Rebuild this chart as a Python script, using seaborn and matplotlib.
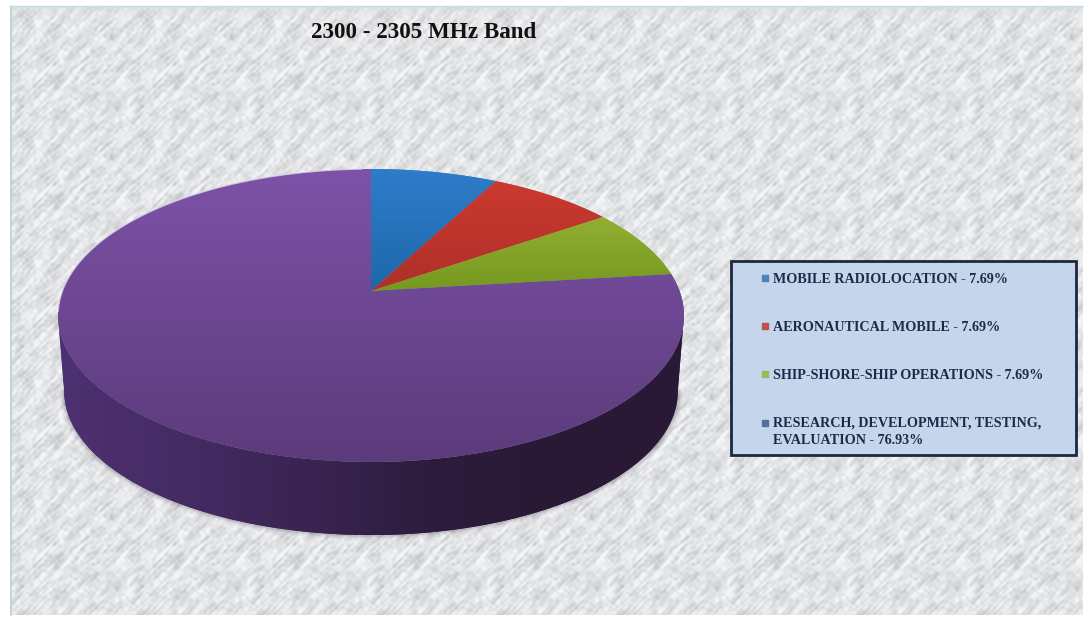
import numpy as np
import matplotlib
matplotlib.use("Agg")
import matplotlib.pyplot as plt
import seaborn as sns
from matplotlib.lines import Line2D
from matplotlib.patches import Polygon, Rectangle
from matplotlib.path import Path
from matplotlib.transforms import Affine2D, Transform

categories = ["MOBILE RADIOLOCATION", "AERONAUTICAL MOBILE",
              "SHIP-SHORE-SHIP OPERATIONS", "RESEARCH, DEVELOPMENT, TESTING,\nEVALUATION"]
shares = [7.69, 7.69, 7.69, 76.93]
share_labels = ["7.69%", "7.69%", "7.69%", "76.93%"]
title = "2300 - 2305 MHz Band"

# top and bottom of the vertical shading of each slice
top_colors = ["#2F7CCB", "#CF3B30", "#A2BE3F", "#7D52A8"]
low_colors = ["#1E68A8", "#AE2F2A", "#76981F", "#5C3B7B"]
legend_colors = ["#4F81BD", "#C0504D", "#9BBB59", "#56709C"]
wall_colors = ["#4E3172", "#452B64", "#3A2453", "#2D1C3C", "#291934", "#2A1A37"]

sns.set_theme(style="white")
plt.rcParams["font.family"] = ["Liberation Serif", "DejaVu Serif"]


class Tilted(Transform):
    # looks at the unit circle of the pie from above, near side bigger
    input_dims = 2
    output_dims = 2
    k = 0.167

    def transform_non_affine(self, xy):
        xy = np.asarray(xy, dtype=float)
        d = 1 + self.k * xy[:, 1]
        return np.column_stack([371 + 308.6 * xy[:, 0] / d, 291 - 142.4 * xy[:, 1] / d])

    def transform_path_non_affine(self, path):
        big = path.transformed(Affine2D().scale(3000))
        pts = np.vstack(big.to_polygons(closed_only=False)) / 3000
        return Path(self.transform_non_affine(pts))


def marble(w=120, h=120):
    # repeating grey tile with fine blotches, strokes lean to the right
    yy, xx = np.mgrid[0:h, 0:w]
    out = np.zeros((h, w))
    for fx in range(1, 24):
        for fy in range(-23, 24):
            f = np.hypot(fx, fy)
            if f < 3:
                continue
            amp = (0.7 * np.exp(-((fx - fy) / 6.0) ** 2) + 0.3) / f ** 0.6
            phase = 2 * np.pi * ((np.sin(fx * 12.9898 + fy * 78.233) * 43758.5453) % 1)
            out += amp * np.sin(2 * np.pi * (fx * xx / w + fy * yy / h) + phase)
    out = (out - out.mean()) / out.std()
    # the small dark specks that repeat in the paper
    for cx, cy, s, a in [(20, 20, 2.5, -2.2), (44, 56, 4, -1.5), (82, 92, 5, -1.3), (100, 30, 3, -1.8)]:
        out += a * np.exp(-((xx - cx) ** 2 + (yy - cy) ** 2) / (2 * s ** 2))
    return out


fig = plt.figure(figsize=(10.85, 6.17), dpi=100, facecolor="white")
ax = fig.add_axes([0, 0, 1, 1])

tile = marble()
grey = np.tile(tile, (6, 10))[:609, :1072]
grey = np.clip(228 + 9 * grey, 185, 246) / 255
rgb = np.dstack([grey * 0.992, grey * 0.998, grey * 1.008]).clip(0, 1)
band = np.clip(1 - np.arange(609) / 10, 0, 1)[:, None, None]
rgb = rgb * (1 - band * 0.5) + np.array([0.80, 0.87, 0.90]) * band * 0.5
ax.imshow(rgb, extent=(11, 1083, 615, 6), aspect="auto", zorder=0, interpolation="bicubic")
ax.plot([11, 11], [6, 615], color="#B5CFD4", lw=1.2, zorder=1)
ax.plot([11, 1083], [6, 6], color="#C9DCE0", lw=1.0, zorder=1)

wedges, _ = ax.pie(shares, startangle=90, counterclock=False, radius=1, colors=legend_colors)
tilt = Tilted()
to_px = tilt + ax.transData

# side wall in front, taken from the big slice
big = wedges[-1]
lo = np.degrees(np.arcsin(-Tilted.k))
ang = np.radians(np.linspace(180 - lo, 360 + lo, 300))
rim = tilt.transform_non_affine(np.column_stack([np.cos(ang), np.sin(ang)]))
foot = rim.copy()
foot[:, 0] = 371 + 0.98 * (foot[:, 0] - 371)
foot[:, 1] = 316 + 0.98 * (foot[:, 1] - 316) + 76
wall = Polygon(np.vstack([rim, foot[::-1]]), closed=True, fc="#33203F", ec="none", zorder=3)
for lw, a in [(7, 0.05), (4.5, 0.08), (2.5, 0.12)]:
    ax.plot(foot[:, 0], foot[:, 1], color="#3A3044", lw=lw, alpha=a, zorder=2)
ax.add_patch(wall)
wall_map = sns.blend_palette(wall_colors, as_cmap=True)
side = ax.imshow(np.linspace(0, 1, 256)[None, :], cmap=wall_map, extent=(56, 684, 540, 310),
                 aspect="auto", zorder=3, interpolation="bilinear")
side.set_clip_path(wall)

# top face, each slice with its own vertical shading
for w, c_top, c_low in zip(wedges, top_colors, low_colors):
    w.set_transform(to_px)
    w.set_edgecolor("none")
    w.set_zorder(4)
    ramp = sns.blend_palette([c_top, c_low], as_cmap=True)
    y0, y1 = (168, 292) if w is not big else (168, 464)
    im = ax.imshow(np.linspace(0, 1, 256)[:, None], cmap=ramp, extent=(50, 690, y1, y0),
                   aspect="auto", zorder=5, interpolation="bilinear")
    im.set_clip_path(w)

# pale rim on the far side of the top face
ang = np.radians(np.linspace(92, 188, 200))
edge = tilt.transform_non_affine(np.column_stack([np.cos(ang), np.sin(ang)]))
ax.plot(edge[:, 0], edge[:, 1], color="#E4DDF0", lw=1.0, alpha=0.8, zorder=6)

ax.set_aspect("auto")
ax.set_xlim(0, 1085)
ax.set_ylim(617, 0)
ax.set_axis_off()

ax.text(424, 32, title, ha="center", va="center", fontsize=16.6, fontweight="bold",
        color="#111111", zorder=8)

ax.add_patch(Rectangle((731, 261), 345, 194, fc="#C5D5EC", ec="#1D2740", lw=2, zorder=7))
handles = [Line2D([], [], ls="", marker="s", ms=4, color=c) for c in legend_colors]
labels = [f"{c} - {s}" for c, s in zip(categories, share_labels)]
leg = ax.legend(handles, labels, loc="upper left", bbox_to_anchor=(760, 273),
                bbox_transform=ax.transData, frameon=False, borderpad=0,
                borderaxespad=0, handlelength=0.7, handletextpad=0.2, labelspacing=2.46,
                labelcolor="#1C2A48", prop={"weight": "bold", "size": 10.2})
leg.set_zorder(8)
for t in leg.get_texts():
    t.set_linespacing(1.42)
# two line entry: marker sits by the first line
last = leg.legend_handles[3]
last.set_ydata(np.asarray(last.get_ydata(), dtype=float) + 6)

fig.savefig("out.png", dpi=100)
